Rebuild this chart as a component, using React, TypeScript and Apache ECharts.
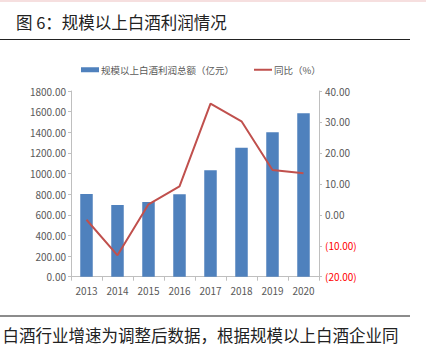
import React, { useEffect, useRef } from "react";
import * as echarts from "echarts";

const categories = ["2013", "2014", "2015", "2016", "2017", "2018", "2019", "2020"];
const profitValues = [801, 695, 724, 798, 1031, 1250, 1400, 1584];
const yoyValues = [-1.6, -13.1, 3.4, 9.2, 35.9, 30.2, 14.5, 13.4];
const leftTicks = { min: 0, max: 1800, interval: 200 };
const rightTicks = { min: -20, max: 40, interval: 10 };
const titleText = "图 6：规模以上白酒利润情况";
const footText = "白酒行业增速为调整后数据，根据规模以上白酒企业同";
const barName = "规模以上白酒利润总额（亿元）";
const lineName = "同比（%）";

const numFont = "'Liberation Sans Narrow', 'Noto Sans CJK SC', sans-serif";
const cjkFont = "'Noto Sans CJK SC', sans-serif";

export default function App() {
  const ref = useRef<HTMLDivElement>(null);
  useEffect(() => {
    if (!ref.current) return;
    const chart = echarts.init(ref.current, null, { renderer: "svg" });
    chart.setOption({
      animation: false,
      backgroundColor: "#ffffff",
      grid: { left: 71, right: 107, top: 91, bottom: 77.3 },
      legend: {
        top: 60,
        left: 76,
        itemGap: 20,
        itemWidth: 18,
        itemHeight: 5,
        textStyle: { fontFamily: cjkFont, fontSize: 9.5, color: "#595959", padding: [0, 0, 0, -3] },
        data: [
          { name: barName, icon: "rect" },
          { name: lineName, icon: "path://M0,0H18V0.01H0Z M0,1.5H18V3.5H0Z M0,4.99H18V5H0Z" },
        ],
      },
      xAxis: {
        type: "category",
        data: categories,
        axisLine: { lineStyle: { color: "#bfbfbf" } },
        axisTick: { show: true, alignWithLabel: false, length: 4, lineStyle: { color: "#bfbfbf" } },
        axisLabel: { fontFamily: numFont, fontSize: 10, color: "#595959", margin: 9 },
      },
      yAxis: [
        {
          type: "value",
          ...leftTicks,
          splitLine: { show: false },
          axisLine: { show: true, lineStyle: { color: "#bfbfbf" } },
          axisTick: { show: true, length: 3, lineStyle: { color: "#bfbfbf" } },
          axisLabel: {
            fontFamily: numFont,
            fontSize: 10,
            color: "#595959",
            margin: 5,
            formatter: (v: number) => v.toFixed(2),
          },
        },
        {
          type: "value",
          ...rightTicks,
          splitLine: { show: false },
          axisLine: { show: true, lineStyle: { color: "#bfbfbf" } },
          axisTick: { show: true, length: 3, lineStyle: { color: "#bfbfbf" } },
          axisLabel: {
            fontFamily: numFont,
            fontSize: 10,
            margin: 6,
            color: (v: any) => (Number(v) < 0 ? "#ff0000" : "#595959"),
            formatter: (v: number) => (v < 0 ? "(" + Math.abs(v).toFixed(2) + ")" : v.toFixed(2)),
          },
        },
      ],
      series: [
        {
          name: barName,
          type: "bar",
          data: profitValues,
          barWidth: 12.5,
          itemStyle: { color: "#4F81BD" },
          yAxisIndex: 0,
        },
        {
          name: lineName,
          type: "line",
          data: yoyValues,
          yAxisIndex: 1,
          showSymbol: false,
          symbol: "none",
          lineStyle: { color: "#C0504D", width: 2 },
          itemStyle: { color: "#C0504D" },
        },
      ],
      graphic: [
        { type: "rect", shape: { x: 0, y: 0, width: 426, height: 2 }, style: { fill: "#f6dfdf" } },
        {
          type: "text",
          x: 16,
          y: 22,
          style: {
            text: titleText,
            font: "16.5px " + cjkFont,
            fill: "#222222",
            textVerticalAlign: "middle",
          },
        },
        { type: "line", shape: { x1: 0, y1: 39.5, x2: 410, y2: 39.5 }, style: { stroke: "#222222", lineWidth: 1 } },
        { type: "line", shape: { x1: 0, y1: 316, x2: 410, y2: 316 }, style: { stroke: "#8c8c8c", lineWidth: 2 } },
        {
          type: "text",
          x: 398.5,
          y: 335,
          style: {
            text: footText,
            font: "16.5px " + cjkFont,
            fill: "#222222",
            textAlign: "right",
            textVerticalAlign: "middle",
          },
        },
      ],
    });
    return () => chart.dispose();
  }, []);
  return <div ref={ref} style={{ width: 426, height: 354, position: "fixed", left: 0, top: 0 }} />;
}
